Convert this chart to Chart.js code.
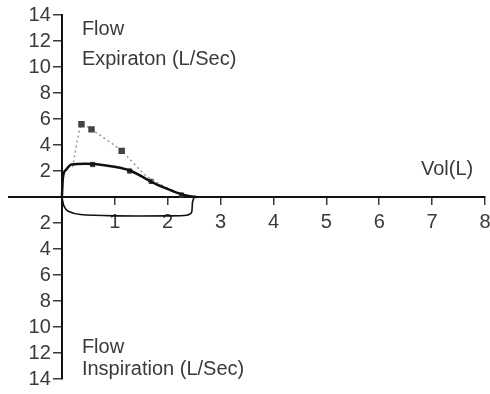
<!DOCTYPE html>
<html>
<head>
<meta charset="utf-8">
<script src="https://cdn.jsdelivr.net/npm/chart.js@4.4.1/dist/chart.umd.min.js"></script>
<style>
  html, body { margin: 0; padding: 0; background: #fff; }
  #wrap { width: 490px; height: 394px; }
</style>
</head>
<body>
<div id="wrap"><canvas id="loop"></canvas></div>
<script>
// expiration curve (measured)
var expVol  = [0, 0.02, 0.08, 0.18, 0.45, 0.8, 1.1, 1.31, 1.5, 1.7, 1.95, 2.2, 2.42, 2.55];
var expFlow = [0, 1.5, 2.1, 2.5, 2.55, 2.45, 2.25, 2.0, 1.6, 1.15, 0.7, 0.3, 0.05, 0];

// markers sitting on the measured curve
var markVol  = [0.58, 1.28, 1.69, 2.26];
var markFlow = [2.5, 2.0, 1.2, 0.15];

// predicted (dotted) curve
var predVol  = [0.2, 0.37, 0.56, 1.13, 1.6, 2.28];
var predFlow = [2.3, 5.6, 5.2, 3.55, 1.6, 0.1];

// inspiration curve (negative flow)
var inspVol  = [0, 0.04, 0.12, 0.35, 1.0, 2.0, 2.36, 2.45, 2.47, 2.5];
var inspFlow = [0, -0.7, -1.1, -1.35, -1.45, -1.45, -1.4, -1.2, -0.4, 0];

var xTicks = [1, 2, 3, 4, 5, 6, 7, 8];
var yTicks = [-14, -12, -10, -8, -6, -4, -2, 2, 4, 6, 8, 10, 12, 14];

function pts(xs, ys) {
    return xs.map(function (x, i) { return { x: x, y: ys[i] }; });
}

var FONT = "'Liberation Sans', Arial, sans-serif";
var INK = '#3a3a3a';

var textLabels = {
    id: 'textLabels',
    afterDraw: function (chart) {
        var c = chart.ctx, xs = chart.scales.x, ys = chart.scales.y;
        c.save();
        c.fillStyle = INK;
        c.font = '20px ' + FONT;
        c.textBaseline = 'middle';
        c.textAlign = 'left';
        var x0 = xs.getPixelForValue(0) + 20;
        c.fillText('Flow', x0, ys.getPixelForValue(12.85));
        c.fillText('Expiraton (L/Sec)', x0, ys.getPixelForValue(10.6));
        c.fillText('Flow', x0, ys.getPixelForValue(-11.55));
        c.fillText('Inspiration (L/Sec)', x0, ys.getPixelForValue(-13.3));
        c.fillText('Vol(L)', xs.getPixelForValue(6.79), ys.getPixelForValue(2.08));
        c.restore();
    }
};

document.addEventListener('DOMContentLoaded', function () {
    var ctx = document.getElementById('loop').getContext('2d');
    var loopChart = new Chart(ctx, {
        type: 'scatter',
        data: {
            datasets: [{
                label: 'Expiration',
                data: pts(expVol, expFlow),
                showLine: true,
                borderColor: '#111',
                borderWidth: 2.5,
                pointRadius: 0,
                cubicInterpolationMode: 'monotone'
            }, {
                label: 'Predicted',
                data: pts(predVol, predFlow),
                showLine: true,
                borderColor: '#999',
                borderWidth: 1.5,
                borderDash: [2, 3],
                tension: 0.2,
                pointStyle: 'rect',
                pointRadius: function (c) {
                    return (c.dataIndex === 0 || c.dataIndex >= 4) ? 0 : 3.5;
                },
                pointBackgroundColor: '#444',
                pointBorderColor: '#444'
            }, {
                label: 'Markers',
                data: pts(markVol, markFlow),
                showLine: false,
                pointStyle: 'rect',
                pointRadius: 3,
                pointBackgroundColor: '#333',
                pointBorderColor: '#333'
            }, {
                label: 'Inspiration',
                data: pts(inspVol, inspFlow),
                showLine: true,
                borderColor: '#111',
                borderWidth: 1.6,
                pointRadius: 0,
                tension: 0.25
            }]
        },
        options: {
            responsive: true,
            maintainAspectRatio: false,
            animation: false,
            layout: { padding: { left: 9, right: 4, top: 15, bottom: 13 } },
            plugins: {
                legend: { display: false },
                tooltip: { enabled: false }
            },
            scales: {
                x: {
                    type: 'linear',
                    min: -1,
                    max: 8,
                    position: { y: 0 },
                    afterBuildTicks: function (axis) {
                        axis.ticks = xTicks.map(function (v) { return { value: v }; });
                    },
                    afterFit: function (axis) {
                        // let the last label run off the edge, as in the print
                        axis.paddingRight = 0;
                        axis.paddingLeft = 0;
                    },
                    border: { display: true, color: '#111', width: 2 },
                    grid: {
                        drawOnChartArea: false,
                        drawTicks: true,
                        tickLength: 7,
                        color: INK,
                        lineWidth: 1.5
                    },
                    ticks: {
                        color: INK,
                        padding: 6,
                        maxRotation: 0,
                        autoSkip: false,
                        font: { family: FONT, size: 20 }
                    }
                },
                y: {
                    type: 'linear',
                    min: -14,
                    max: 14,
                    position: { x: 0 },
                    afterBuildTicks: function (axis) {
                        axis.ticks = yTicks.map(function (v) { return { value: v }; });
                    },
                    border: { display: true, color: '#111', width: 2 },
                    grid: {
                        drawOnChartArea: false,
                        drawTicks: true,
                        tickLength: 8,
                        color: INK,
                        lineWidth: 1.5
                    },
                    ticks: {
                        color: INK,
                        autoSkip: false,
                        font: { family: FONT, size: 20 },
                        // labels sit on the axis itself when it is positioned at x=0
                        callback: function (v) { return Math.abs(v) + '  '; }
                    }
                }
            }
        },
        plugins: [textLabels]
    });
});
</script>
</body>
</html>
